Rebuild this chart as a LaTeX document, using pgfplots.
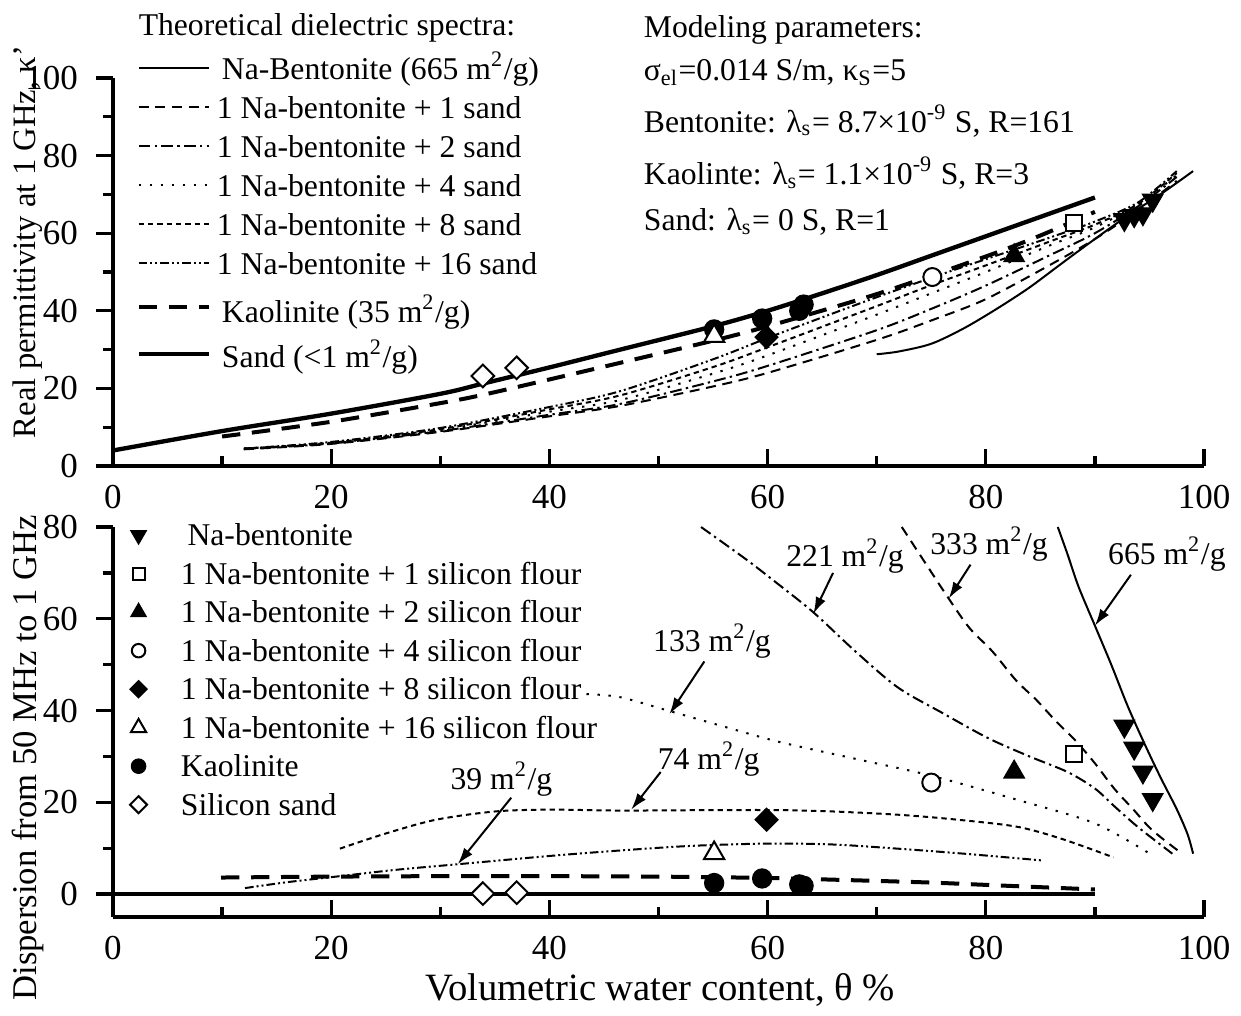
\documentclass[border=0pt]{standalone}
\usepackage{fontspec}
\setmainfont{Liberation Serif}
\usepackage{pgfplots}
\pgfplotsset{compat=1.18}
\usetikzlibrary{arrows.meta}

\newcommand{\fl}{\fontsize{9.5}{11}\selectfont}
\newcommand{\sq}{\textsuperscript{2}}
\newcommand{\stA}{\rule[-3.6pt]{0pt}{11.6pt}}
\newcommand{\stK}{\rule[-3.6pt]{0pt}{14.4pt}}
\newcommand{\stS}{\rule[-3.6pt]{0pt}{13.4pt}}
\newcommand{\stB}{\rule[-3.6pt]{0pt}{11.55pt}}

\tikzset{
  s665/.style={line width=0.6pt},
  s1/.style={line width=0.6pt, dash pattern=on 3pt off 2pt},
  s2/.style={line width=0.6pt, dash pattern=on 3.5pt off 1.3pt on 0.7pt off 1.3pt},
  s4/.style={line width=0.6pt, dash pattern=on 0.7pt off 2.6pt},
  s8/.style={line width=0.6pt, dash pattern=on 1.6pt off 1.2pt},
  s16/.style={line width=0.6pt, dash pattern=on 2.6pt off 0.9pt on 0.6pt off 0.9pt on 0.6pt off 0.9pt},
  skao/.style={line width=1.2pt, dash pattern=on 5.5pt off 3.5pt},
  ssand/.style={line width=1.3pt},
  arr/.style={line width=0.6pt, -{Latex[length=5pt,width=3.2pt]}},
  txt/.style={anchor=base west, inner sep=0pt, font=\fl},
}

\pgfplotsset{
  panel/.style={
    scale only axis, width=327.3pt,
    xmin=0, xmax=100,
    axis x line=bottom, axis y line=left,
    axis line style={line width=1.2pt, -},
    xtick={0,20,...,100}, minor xtick={10,30,...,90},
    xtick align=inside, ytick align=outside,
    major tick length=5pt, minor tick length=3pt,
    tick style={line width=1pt, black},
    tick label style={font=\fontsize{10.5}{12}\selectfont},
    xticklabel style={yshift=-2.3pt},
    yticklabel style={xshift=-2pt},
    /pgf/number format/assume math mode=true,
    clip=false,
  },
}

\begin{document}
\begin{tikzpicture}

% top panel: permittivity at 1 GHz
\begin{axis}[panel, at={(0pt,135.3pt)}, anchor=south west, height=116.4pt,
  ymin=0, ymax=100, ytick={0,20,...,100}, minor ytick={10,30,...,90},
  legend style={draw=none, fill=none, at={(axis cs:2.1,106.9)}, anchor=north west,
    font=\fl, inner sep=0pt, row sep=2.2pt, column sep=1.8pt, nodes={inner sep=0pt}},
  legend cell align=left,
  legend image code/.code={\draw[#1] (0pt,0pt) -- (21pt,0pt);},
]
\addplot[s665, smooth] coordinates {(70,28.8) (72,29.5) (75,31.5) (78,35.5) (81,40.5) (84,46) (87,52.3) (90,58.5) (93,64.5) (96,70) (99,76)};
\addlegendentry{\stA\hspace{1.5pt}Na-Bentonite (665 m\sq/g)}
\addplot[s1, smooth] coordinates {(12,4.3) (20,5.7) (30,8.8) (40,12.8) (46.5,15.5) (55,20.5) (60,24.0) (70,32.5) (75,37.5) (80,43.0) (86,52.0) (90,58.5) (94,66.0) (97.5,73.5)};
\addlegendentry{\stA 1 Na-bentonite + 1 sand}
\addplot[s2, smooth] coordinates {(12,4.4) (20,5.8) (30,9.0) (40,13.2) (46.5,16.0) (55,21.8) (60,25.8) (70,35.0) (75,40.5) (80,46.5) (86,54.5) (90,60.0) (94,67.0) (97.5,74.5)};
\addlegendentry{\stA 1 Na-bentonite + 2 sand}
\addplot[s4, smooth] coordinates {(12,4.5) (20,5.9) (30,9.3) (40,14.0) (46.5,17.0) (55,23.8) (60,28.5) (70,39.0) (75,44.5) (80,50.0) (86,57.0) (90,61.5) (94,67.5) (97.5,75.0)};
\addlegendentry{\stA 1 Na-bentonite + 4 sand}
\addplot[s8, smooth] coordinates {(12,4.5) (20,6.0) (30,9.5) (40,14.6) (46.5,18.2) (55,25.5) (60,30.6) (70,41.2) (75,46.6) (80,51.7) (86,58.0) (90,62.2) (94,67.6) (97.5,75.5)};
\addlegendentry{\stA 1 Na-bentonite + 8 sand}
\addplot[s16, smooth] coordinates {(12,4.5) (20,6.2) (30,9.8) (40,15.2) (46.5,19.3) (55,27.5) (60,33.0) (65,38.3) (70,43.5) (75,48.5) (80,53.3) (86,59.0) (90,63.0) (94,68.0) (97.5,76.0)};
\addlegendentry{\stA 1 Na-bentonite + 16 sand}
\addplot[skao, smooth] coordinates {(10,7.6) (20,11.4) (30,16.2) (34,18.4) (40,22.3) (46.5,26.6) (55,32.3) (60,36.0) (70,44.3) (80,54.0) (85,59.4) (90,65.5)};
\addlegendentry{\stK\hspace{1.5pt}Kaolinite (35 m\sq/g)}
\addplot[ssand, smooth] coordinates {(0,4.0) (10,9.0) (20,13.5) (30,18.6) (34,21.3) (40,25.4) (46.5,30.0) (55,36.0) (60,40.0) (65,44.5) (70,49.2) (75,54.2) (80,59.2) (85,64.2) (90,69.2)};
\addlegendentry{\stS\hspace{1.5pt}Sand (<1 m\sq/g)}

% measured points
\addplot[only marks, forget plot, mark=triangle*, mark size=3.5pt, mark options={rotate=180, fill=black}] coordinates {(92.7,63.5) (93.6,64.5) (94.4,65.0) (95.3,68.5)};
\addplot[only marks, forget plot, mark=square*, mark size=2.4pt, mark options={fill=white, line width=0.6pt}] coordinates {(88.1,62.7)};
\addplot[only marks, forget plot, mark=triangle*, mark size=3.5pt, mark options={fill=black}] coordinates {(82.6,54.2)};
\addplot[only marks, forget plot, mark=*, mark size=2.7pt, mark options={fill=white, line width=0.6pt}] coordinates {(75.1,48.7)};
\addplot[only marks, forget plot, mark=square*, mark size=2.4pt, mark options={rotate=45, fill=black}] coordinates {(59.9,33.2)};
\addplot[only marks, forget plot, mark=*, mark size=2.85pt, mark options={fill=black}] coordinates {(55.1,35.2) (59.5,38.0) (62.9,40.0) (63.3,41.6)};
\addplot[only marks, forget plot, mark=triangle*, mark size=3.5pt, mark options={fill=white, line width=0.6pt}] coordinates {(55.1,33.5)};
\addplot[only marks, forget plot, mark=square*, mark size=2.4pt, mark options={rotate=45, fill=white, line width=0.6pt}] coordinates {(33.9,23.2) (37.0,25.3)};

\node[txt] at (axis cs:2.3,111) {Theoretical dielectric spectra:};
\node[txt] at (axis cs:48.6,110.4) {Modeling parameters:};
\node[txt] at (axis cs:48.6,99.3) {σ\textsubscript{el}=0.014 S/m, κ\textsubscript{S}=5};
\node[txt] at (axis cs:48.6,86) {Bentonite: λ\textsubscript{s}= 8.7×10\textsuperscript{-9} S, R=161};
\node[txt] at (axis cs:48.6,72.5) {Kaolinte: λ\textsubscript{s}= 1.1×10\textsuperscript{-9} S, R=3};
\node[txt] at (axis cs:48.6,60.6) {Sand: λ\textsubscript{s}= 0 S, R=1};
\end{axis}

% bottom panel: dispersion
\begin{axis}[panel, at={(0pt,0pt)}, anchor=south west, height=117pt,
  ymin=-5, ymax=80, ytick={0,20,...,80}, minor ytick={10,30,50,70},
  legend style={draw=none, fill=none, at={(axis cs:1.0,81.8)}, anchor=north west,
    font=\fl, inner sep=0pt, row sep=2.1pt, column sep=8.5pt, nodes={inner sep=0pt}},
  legend cell align=left,
  legend image code/.code={\path (-4pt,0pt) (4pt,0pt); \draw[#1, every mark/.append style={scale=0.75}] plot coordinates {(0pt,0pt)};},
]
\addplot[s665, smooth, forget plot] coordinates {(86.6,80) (87.5,74) (88.5,67) (90,58.5) (91.5,50) (93,41) (94.5,33) (96,25.5) (97.5,18.5) (98.5,13) (99,8.8)};
\addplot[s1, smooth, forget plot] coordinates {(72.3,80) (74.5,72) (76.6,64.4) (78.5,58) (80.6,52.9) (82.8,46.5) (84.6,42.4) (86.5,37.5) (88.2,33.5) (90,28.5) (91.8,22.9) (93.5,18.5) (95,14.5) (96.5,11.5) (98,8.8)};
\addplot[s2, smooth, forget plot] coordinates {(53.9,80) (58,73) (61,67.5) (64.2,61.4) (68,53) (71.9,45.1) (76,39.5) (80.2,34) (84,30) (87.5,26.6) (90,23) (91.8,19.1) (94,14.5) (97.1,8.8)};
\addplot[s4, smooth, forget plot] coordinates {(43.4,43.6) (46.5,42.9) (51,39.9) (56,36.5) (61,33.2) (68,29.5) (75,25.8) (82.8,20.6) (90,15.4) (95.3,8.4)};
\addplot[s8, smooth, forget plot] coordinates {(20.8,9.9) (25,13.2) (29.6,16.2) (35,18) (40,18.4) (46.5,18.2) (55,18.3) (61,18.3) (66,18) (71.9,17.3) (77,16.3) (82.8,14.7) (87,12) (91.7,8)};
\addplot[s16, smooth, forget plot] coordinates {(12.1,1.3) (16,2.6) (20.8,3.9) (26,5.3) (31.6,6.5) (40,8.3) (46.5,9.5) (53,10.5) (60,11) (66,10.8) (71.9,9.9) (78,8.8) (85.3,7.3)};
\addplot[skao, smooth, forget plot] coordinates {(9.9,3.6) (20,3.8) (30,3.9) (40,3.9) (50,3.8) (60,3.5) (68,3.0) (75,2.5) (80,2.0) (85,1.5) (90,1.0)};
\addplot[ssand, forget plot] coordinates {(0,0) (90,0)};

\addplot[only marks, mark=triangle*, mark size=3.5pt, mark options={rotate=180, fill=black}] coordinates {(92.7,36.6) (93.6,31.8) (94.4,26.6) (95.3,20.6)};
\addlegendentry{\stB\hspace{2pt}Na-bentonite}
\addplot[only marks, mark=square*, mark size=2.4pt, mark options={fill=white, line width=0.6pt}] coordinates {(88.1,30.5)};
\addlegendentry{\stB 1 Na-bentonite + 1 silicon flour}
\addplot[only marks, mark=triangle*, mark size=3.5pt, mark options={fill=black}] coordinates {(82.6,26.6)};
\addlegendentry{\stB 1 Na-bentonite + 2 silicon flour}
\addplot[only marks, mark=*, mark size=2.7pt, mark options={fill=white, line width=0.6pt}] coordinates {(75.0,24.3)};
\addlegendentry{\stB 1 Na-bentonite + 4 silicon flour}
\addplot[only marks, mark=square*, mark size=2.4pt, mark options={rotate=45, fill=black}] coordinates {(59.9,16.2)};
\addlegendentry{\stB 1 Na-bentonite + 8 silicon flour}
\addplot[only marks, mark=triangle*, mark size=3.5pt, mark options={fill=white, line width=0.6pt}] coordinates {(55.1,8.9)};
\addlegendentry{\stB 1 Na-bentonite + 16 silicon flour}
\addplot[only marks, mark=*, mark size=2.85pt, mark options={fill=black}] coordinates {(55.1,2.4) (59.5,3.4) (62.9,2.1) (63.3,1.8)};
\addlegendentry{\stB Kaolinite}
\addplot[only marks, mark=square*, mark size=2.4pt, mark options={rotate=45, fill=white, line width=0.6pt}] coordinates {(33.9,0.1) (37.0,0.3)};
\addlegendentry{\stB Silicon sand}

\node[font=\fl] at (axis cs:96.6,74.1) {665 m\sq/g};
\draw[arr] (axis cs:93.3,69.6) -- (axis cs:90,58.5);
\node[font=\fl] at (axis cs:80.3,76.3) {333 m\sq/g};
\draw[arr] (axis cs:78.6,71.8) -- (axis cs:76.6,64.4);
\node[font=\fl] at (axis cs:67.1,73.7) {221 m\sq/g};
\draw[arr] (axis cs:66.0,70.0) -- (axis cs:64.2,61.1);
\node[font=\fl] at (axis cs:54.9,55.1) {133 m\sq/g};
\draw[arr] (axis cs:54.2,50.7) -- (axis cs:51.0,39.2);
\node[font=\fl] at (axis cs:54.6,29.5) {74 m\sq/g};
\draw[arr] (axis cs:50.2,26.6) -- (axis cs:47.5,18.4);
\node[font=\fl] at (axis cs:35.6,25.1) {39 m\sq/g};
\draw[arr] (axis cs:36.5,21.0) -- (axis cs:31.6,6.5);
\end{axis}

\node[rotate=90, font=\fontsize{9.8}{12}\selectfont] at (-25.5pt,202.5pt) {Real permittivity at 1 GHz, κ'};
\node[rotate=90, font=\fontsize{10.4}{12}\selectfont] at (-25.5pt,47.7pt) {Dispersion from 50 MHz to 1 GHz};
\node[font=\fontsize{11.6}{14}\selectfont] at (164.1pt,-21.9pt) {Volumetric water content, θ \%};

\pgfresetboundingbox
\path[use as bounding box] (-33.9pt,-29.7pt) rectangle (338.4pt,275.1pt);
\end{tikzpicture}
\end{document}
